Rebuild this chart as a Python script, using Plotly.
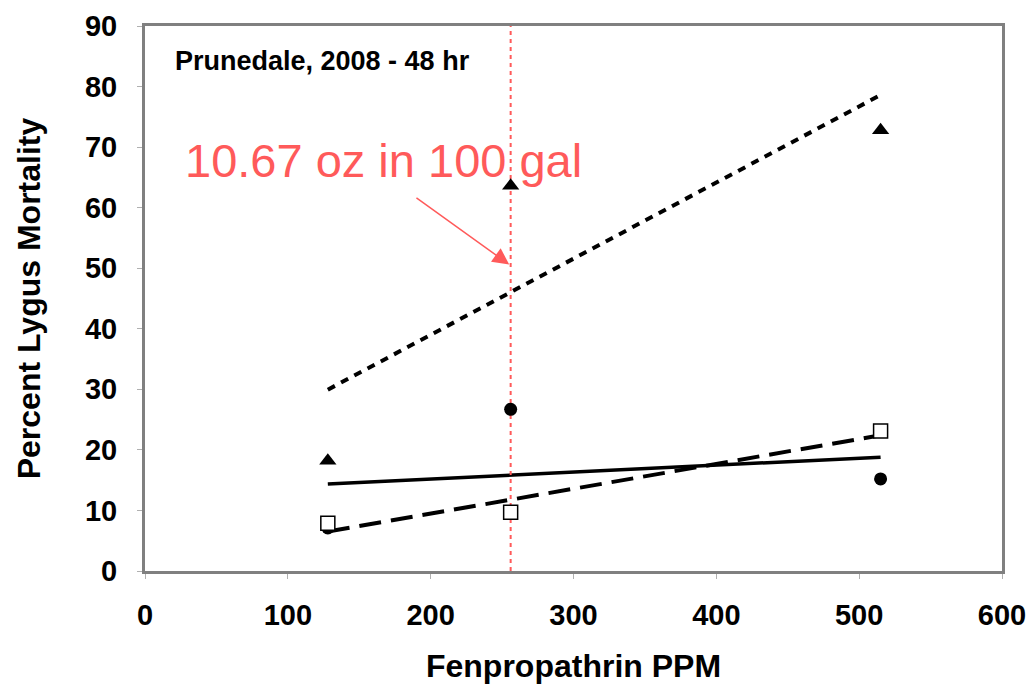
import numpy as np
import plotly.graph_objects as go

# ---- data ----
ppm = [128, 256, 515]
triangle_vals = [18.2, 63.6, 72.8]
circle_vals = [7.1, 26.7, 15.2]
square_vals = [7.9, 9.7, 23.1]

reference_ppm = 256
x_ticks = [0, 100, 200, 300, 400, 500, 600]
y_ticks = [0, 10, 20, 30, 40, 50, 60, 70, 80, 90]

title_text = "Prunedale, 2008 - 48 hr"
note_text = "10.67 oz in 100 gal"
arrow_from = (189, 61.8)
arrow_to = (255, 50.6)

RED = "#FF5A5A"

fig = go.Figure()

def fit(xs, ys):
    m, b = np.polyfit(xs, ys, 1)
    xe = [min(xs), max(xs)]
    return xe, [m * v + b for v in xe]

# trend lines
fx, fy = fit(ppm, triangle_vals)
fig.add_trace(go.Scatter(x=fx, y=fy, mode="lines",
                         line=dict(color="black", width=4, dash="8px,7px"),
                         showlegend=False))
fx, fy = fit(ppm, circle_vals)
fig.add_trace(go.Scatter(x=fx, y=fy, mode="lines",
                         line=dict(color="black", width=3.5),
                         showlegend=False))
fx, fy = fit(ppm, square_vals)
fig.add_trace(go.Scatter(x=fx, y=fy, mode="lines",
                         line=dict(color="black", width=4, dash="22px,10px"),
                         showlegend=False))

# reference vertical line
fig.add_trace(go.Scatter(x=[reference_ppm, reference_ppm], y=[y_ticks[0], y_ticks[-1]],
                         mode="lines", line=dict(color=RED, width=2, dash="4px,4px"),
                         showlegend=False))

# markers
fig.add_trace(go.Scatter(x=ppm, y=triangle_vals, mode="markers",
                         marker=dict(symbol="triangle-up", size=15, color="black"),
                         showlegend=False))
fig.add_trace(go.Scatter(x=ppm, y=circle_vals, mode="markers",
                         marker=dict(symbol="circle", size=13, color="black"),
                         showlegend=False))
fig.add_trace(go.Scatter(x=ppm, y=square_vals, mode="markers",
                         marker=dict(symbol="square", size=14, color="white",
                                     line=dict(color="black", width=1.5)),
                         showlegend=False))

fig.add_annotation(x=arrow_to[0], y=arrow_to[1], ax=arrow_from[0], ay=arrow_from[1],
                   xref="x", yref="y", axref="x", ayref="y", text="",
                   showarrow=True, arrowhead=2, arrowsize=2.2, arrowwidth=1.5,
                   arrowcolor=RED)
fig.add_annotation(x=183, y=160, xref="paper", yref="paper", text=note_text,
                   showarrow=False, xanchor="left", yanchor="middle",
                   font=dict(family="Liberation Sans, Arial", size=47, color=RED))
fig.add_annotation(x=173, y=61, text=title_text, showarrow=False,
                   xanchor="left", yanchor="middle",
                   font=dict(family="Liberation Sans, Arial", size=27, color="black"))

# convert pixel annotations to paper coordinates
L, R, T, B = 145, 28, 26, 113
W, H = 1030, 684
pw, ph = W - L - R, H - T - B
for ann in fig.layout.annotations[1:]:
    px, py = ann.x, ann.y
    ann.x = (px - L) / pw
    ann.y = 1 - (py - T) / ph
    ann.xref = "paper"
    ann.yref = "paper"
fig.layout.annotations[2].text = "<b>" + title_text + "</b>"

axis_common = dict(showline=True, mirror=True, linecolor="#808080", linewidth=3,
                   showgrid=False, zeroline=False, ticks="outside", ticklen=5,
                   tickcolor="#b0b0b0", tickwidth=1, automargin=False,
                   tickfont=dict(family="Liberation Sans, Arial", size=29, color="black",
                                 weight="bold"))

fig.update_layout(
    width=W, height=H,
    margin=dict(l=L, r=R, t=T, b=B),
    paper_bgcolor="white", plot_bgcolor="white",
    xaxis=dict(range=[0, 600], tickvals=x_ticks, ticklabelstandoff=11,
               title=dict(text="<b>Fenpropathrin PPM</b>", standoff=33,
                          font=dict(family="Liberation Sans, Arial", size=32, color="black")),
               **axis_common),
    yaxis=dict(range=[0, 90], tickvals=y_ticks, ticklabelstandoff=14,
               title=dict(text="<b>Percent Lygus Mortality</b>", standoff=35,
                          font=dict(family="Liberation Sans, Arial", size=32, color="black")),
               **axis_common),
)

fig.write_html("out.html")
